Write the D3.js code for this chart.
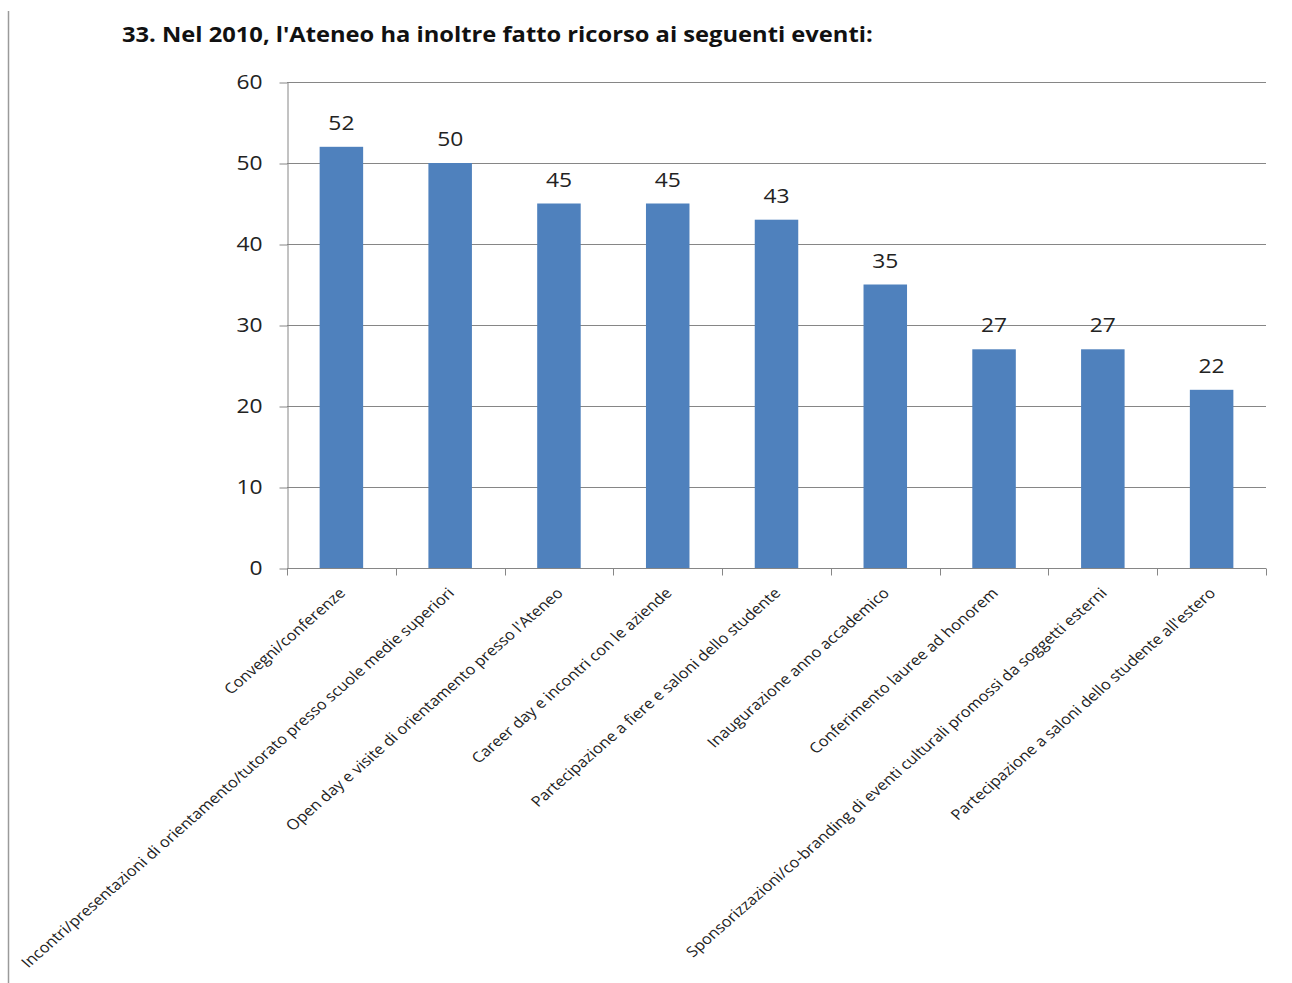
<!DOCTYPE html>
<html>
<head>
<meta charset="utf-8">
<script src="https://cdn.jsdelivr.net/npm/d3@7"></script>
<style>
  body { margin: 0; background: #fff; }
  svg { display: block; font-family: "Open Sans", sans-serif; }
  .axis path, .axis line { stroke: #868686; }
</style>
</head>
<body>
<svg id="chart" width="1292" height="983"></svg>
<script>
const categories = [
	"Convegni/conferenze",
	"Incontri/presentazioni di orientamento/tutorato presso scuole medie superiori",
	"Open day e visite di orientamento presso l'Ateneo",
	"Career day e incontri con le aziende",
	"Partecipazione a fiere e saloni dello studente",
	"Inaugurazione anno accademico",
	"Conferimento lauree ad honorem",
	"Sponsorizzazioni/co-branding di eventi culturali promossi da soggetti esterni",
	"Partecipazione a saloni dello studente all'estero"
];
const values = [52, 50, 45, 45, 43, 35, 27, 27, 22];
const yTicks = [0, 10, 20, 30, 40, 50, 60];

const margin = { top: 82, right: 26, bottom: 415, left: 287 };
const width = 1292;
const height = 983;
// the original picture is a bit stretched horizontally
const stretch = 1.14;

const svg = d3.select("#chart");

// left border line
svg.append("line")
	.attr("x1", 8.5).attr("x2", 8.5)
	.attr("y1", 11).attr("y2", height)
	.attr("stroke", "#9a9a9a")
	.attr("stroke-width", 1.5);

svg.append("text")
	.attr("transform", `translate(122, 42) scale(${stretch}, 1)`)
	.attr("font-size", 20.8)
	.attr("font-weight", "bold")
	.attr("fill", "#111")
	.text("33. Nel 2010, l'Ateneo ha inoltre fatto ricorso ai seguenti eventi:");

const x = d3.scaleBand()
	.domain(categories)
	.range([margin.left, width - margin.right])
	.paddingInner(0.6)
	.paddingOuter(0.3);

const y = d3.scaleLinear()
	.domain([0, 60])
	.range([height - margin.bottom, margin.top]);

// gridlines
svg.append("g")
	.selectAll("line")
	.data(yTicks.slice(1))
	.enter()
	.append("line")
	.attr("x1", margin.left)
	.attr("x2", width - margin.right)
	.attr("y1", (d) => Math.round(y(d)) + 0.5)
	.attr("y2", (d) => Math.round(y(d)) + 0.5)
	.attr("stroke", "#868686");

// y axis
const yAxis = svg.append("g")
	.attr("class", "axis")
	.attr("transform", `translate(${margin.left + 0.5}, 0.5)`)
	.call(d3.axisLeft(y).tickValues(yTicks).tickSize(8).tickSizeOuter(0));
yAxis.selectAll("text")
	.attr("font-size", 20)
	.attr("fill", "#222")
	.attr("x", null)
	.attr("transform", `translate(-25, 0) scale(${stretch}, 1)`)
	.attr("font-family", "'Open Sans', sans-serif");

// bars
svg.append("g")
	.selectAll("rect")
	.data(values)
	.enter()
	.append("rect")
	.attr("x", (d, i) => x(categories[i]))
	.attr("y", (d) => y(d))
	.attr("width", x.bandwidth())
	.attr("height", (d) => y(0) - y(d))
	.attr("fill", "#4F81BD");

// value labels
svg.append("g")
	.selectAll("text")
	.data(values)
	.enter()
	.append("text")
	.attr("transform", (d, i) => `translate(${x(categories[i]) + x.bandwidth() / 2}, ${y(d) - 17}) scale(${stretch}, 1)`)
	.attr("text-anchor", "middle")
	.attr("font-size", 20)
	.attr("fill", "#222")
	.text((d) => d);

// x axis line and ticks at band boundaries
const xBase = Math.round(y(0)) + 0.5;
svg.append("line")
	.attr("x1", margin.left)
	.attr("x2", width - margin.right)
	.attr("y1", xBase).attr("y2", xBase)
	.attr("stroke", "#868686");

const step = x.step();
svg.append("g")
	.selectAll("line")
	.data(d3.range(categories.length + 1))
	.enter()
	.append("line")
	.attr("x1", (i) => Math.round(margin.left + i * step) + 0.5)
	.attr("x2", (i) => Math.round(margin.left + i * step) + 0.5)
	.attr("y1", xBase)
	.attr("y2", xBase + 7)
	.attr("stroke", "#868686");

// category labels
svg.append("g")
	.selectAll("text")
	.data(categories)
	.enter()
	.append("text")
	.attr("transform", (d) => `translate(${x(d) + x.bandwidth() / 2 + 5}, ${y(0) + 26}) scale(${stretch}, 1) rotate(-45)`)
	.attr("text-anchor", "end")
	.attr("font-size", 14.5)
	.attr("fill", "#222")
	.text((d) => d);
</script>
</body>
</html>
